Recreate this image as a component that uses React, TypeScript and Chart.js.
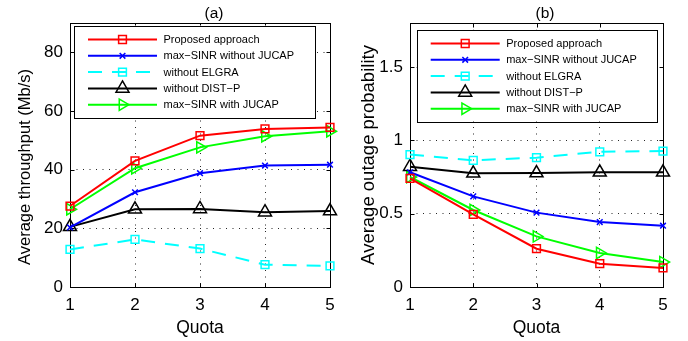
import React, { useEffect, useRef } from "react";
import { Chart, registerables } from "chart.js";
import { drawPoint } from "chart.js/helpers";

Chart.register(...registerables);

// ---------- data ----------
const quota = [1, 2, 3, 4, 5];
const seriesLabels = [
  "Proposed approach",
  "max\u2212SINR without JUCAP",
  "without ELGRA",
  "without DIST\u2212P",
  "max\u2212SINR with JUCAP",
];

// (a) Average throughput (Mb/s)
const thrProposed = [27.6, 43.0, 51.6, 53.9, 54.4];
const thrMaxSinrNoJucap = [20.3, 32.3, 38.8, 41.4, 41.7];
const thrNoElgra = [12.8, 16.2, 13.1, 7.6, 7.2];
const thrNoDistP = [20.5, 26.5, 26.6, 25.5, 25.9];
const thrMaxSinrJucap = [26.5, 40.5, 47.6, 51.4, 53.1];
const yTicksA = [0, 20, 40, 60, 80];

// (b) Average outage probability
const outProposed = [0.74, 0.495, 0.261, 0.159, 0.13];
const outMaxSinrNoJucap = [0.782, 0.618, 0.507, 0.443, 0.418];
const outNoElgra = [0.903, 0.864, 0.882, 0.922, 0.927];
const outNoDistP = [0.82, 0.775, 0.777, 0.782, 0.782];
const outMaxSinrJucap = [0.75, 0.525, 0.345, 0.232, 0.17];
const yTicksB = [0, 0.5, 1, 1.5];

// ---------- styles ----------
const FONT = "'Liberation Sans', Arial, Helvetica, sans-serif";
const seriesStyles = [
  { color: "#ff0000", pointStyle: "rect", radius: 5.5, rotation: 0, dash: [] as number[] },
  { color: "#0000ff", pointStyle: "crossRot", radius: 4, rotation: 0, dash: [] as number[] },
  { color: "#00ffff", pointStyle: "rect", radius: 5.5, rotation: 0, dash: [14, 10] },
  { color: "#000000", pointStyle: "triangle", radius: 7.5, rotation: 0, dash: [] as number[] },
  { color: "#00ff00", pointStyle: "triangle", radius: 6.5, rotation: 90, dash: [] as number[] },
];

type Panel = {
  title: string;
  titleX: number;
  titleY: number;
  yLabel: string;
  yLabelX: number;
  yLabelY: number;
  yLabelSize: number;
  yMax: number;
  yTicks: number[];
  series: number[][];
  legend: { x: number; y: number; w: number; h: number };
  yAxisWidth: number;
  padRight: number;
  padTop: number;
};

const panelA: Panel = {
  title: "(a)",
  titleX: 214,
  titleY: 13.5,
  yLabel: "Average throughput (Mb/s)",
  yLabelX: 25,
  yLabelY: 167,
  yLabelSize: 16.5,
  yMax: 90,
  yTicks: yTicksA,
  series: [thrProposed, thrMaxSinrNoJucap, thrNoElgra, thrNoDistP, thrMaxSinrJucap],
  legend: { x: 74, y: 25.5, w: 241, h: 91.5 },
  yAxisWidth: 70,
  padRight: 14,
  padTop: 23,
};

const panelB: Panel = {
  title: "(b)",
  titleX: 201,
  titleY: 13.5,
  yLabel: "Average outage probability",
  yLabelX: 25,
  yLabelY: 155,
  yLabelSize: 18.5,
  yMax: 1.8,
  yTicks: yTicksB,
  series: [outProposed, outMaxSinrNoJucap, outNoElgra, outNoDistP, outMaxSinrJucap],
  legend: { x: 72.7, y: 29.5, w: 240, h: 91.5 },
  yAxisWidth: 66,
  padRight: 25,
  padTop: 23,
};

function buildConfig(p: Panel): any {
  const datasets = p.series.map((vals, i) => {
    const s = seriesStyles[i];
    return {
      label: seriesLabels[i],
      data: quota.map((q, k) => ({ x: q, y: vals[k] })),
      borderColor: s.color,
      borderWidth: 2,
      borderDash: s.dash,
      backgroundColor: "rgba(0,0,0,0)",
      pointStyle: s.pointStyle,
      pointRadius: s.radius,
      pointRotation: s.rotation,
      pointBorderColor: s.color,
      pointBackgroundColor: "rgba(0,0,0,0)",
      pointBorderWidth: 1.5,
      tension: 0,
      fill: false,
      clip: false,
    };
  });

  const framePlugin = {
    id: "frame",
    beforeDatasetsDraw(chart: any) {
      const { ctx, chartArea: a, scales } = chart;
      const L = Math.round(a.left) + 0.5;
      const R = Math.round(a.right) + 0.5;
      const T = Math.round(a.top) + 0.5;
      const B = Math.round(a.bottom) + 0.5;
      ctx.save();
      ctx.strokeStyle = "#000";
      ctx.lineWidth = 1;
      ctx.setLineDash([]);
      ctx.strokeRect(L, T, R - L, B - T);
      const tl = 4;
      ctx.beginPath();
      scales.x.ticks.forEach((t: any) => {
        const x = Math.round(scales.x.getPixelForValue(t.value)) + 0.5;
        ctx.moveTo(x, B);
        ctx.lineTo(x, B - tl);
        ctx.moveTo(x, T);
        ctx.lineTo(x, T + tl);
      });
      scales.y.ticks.forEach((t: any) => {
        const y = Math.round(scales.y.getPixelForValue(t.value)) + 0.5;
        ctx.moveTo(L, y);
        ctx.lineTo(L + tl, y);
        ctx.moveTo(R, y);
        ctx.lineTo(R - tl, y);
      });
      ctx.stroke();
      ctx.restore();
    },
  };

  const legendPlugin = {
    id: "matlabLegend",
    afterDatasetsDraw(chart: any) {
      const ctx = chart.ctx;
      const b = p.legend;
      ctx.save();
      ctx.fillStyle = "#fff";
      ctx.fillRect(b.x, b.y, b.w, b.h);
      ctx.strokeStyle = "#000";
      ctx.lineWidth = 1;
      ctx.setLineDash([]);
      ctx.strokeRect(Math.round(b.x) + 0.5, Math.round(b.y) + 0.5, Math.round(b.w), Math.round(b.h));
      chart.data.datasets.forEach((ds: any, i: number) => {
        const y = b.y + 14 + i * 16.3;
        ctx.save();
        ctx.strokeStyle = ds.borderColor;
        ctx.lineWidth = ds.borderWidth;
        ctx.setLineDash(ds.borderDash || []);
        ctx.beginPath();
        ctx.moveTo(b.x + 14, y);
        ctx.lineTo(b.x + 83, y);
        ctx.stroke();
        ctx.setLineDash([]);
        ctx.lineWidth = ds.pointBorderWidth;
        ctx.fillStyle = "rgba(0,0,0,0)";
        ctx.strokeStyle = ds.pointBorderColor;
        drawPoint(
          ctx,
          {
            pointStyle: ds.pointStyle,
            rotation: ds.pointRotation,
            radius: ds.pointRadius,
            borderWidth: ds.pointBorderWidth,
          } as any,
          b.x + 48.5,
          y
        );
        ctx.restore();
        ctx.fillStyle = "#000";
        ctx.font = `11px ${FONT}`;
        ctx.textAlign = "left";
        ctx.textBaseline = "middle";
        ctx.fillText(ds.label, b.x + 89.5, y + 0.5);
      });
      ctx.restore();
    },
    afterDraw(chart: any) {
      const ctx = chart.ctx;
      ctx.save();
      ctx.fillStyle = "#000";
      ctx.textAlign = "center";
      ctx.textBaseline = "middle";
      ctx.font = `15.5px ${FONT}`;
      ctx.fillText(p.title, p.titleX, p.titleY);
      ctx.translate(p.yLabelX, p.yLabelY);
      ctx.rotate(-Math.PI / 2);
      ctx.font = `${p.yLabelSize}px ${FONT}`;
      ctx.fillText(p.yLabel, 0, 0);
      ctx.restore();
    },
  };

  return {
    type: "line",
    data: { datasets },
    options: {
      responsive: false,
      animation: false,
      devicePixelRatio: 1,
      layout: { padding: { top: p.padTop, right: p.padRight, left: 0, bottom: 0 } },
      plugins: { legend: { display: false }, tooltip: { enabled: false }, title: { display: false } },
      scales: {
        x: {
          type: "linear",
          min: 1,
          max: 5,
          afterBuildTicks: (s: any) => {
            s.ticks = quota.map((v) => ({ value: v }));
          },
          afterFit: (s: any) => {
            s.height = 54;
          },
          grid: { color: "rgba(0,0,0,0.85)", lineWidth: 1, drawTicks: false },
          border: { display: false, dash: [1, 5.5] },
          ticks: {
            color: "#000",
            font: { family: FONT, size: 17 },
            padding: 8,
            maxRotation: 0,
            callback: (v: any) => String(v),
          },
          title: {
            display: true,
            text: "Quota",
            color: "#000",
            font: { family: FONT, size: 17.5 },
            padding: { top: 0, bottom: 2.5 },
          },
        },
        y: {
          type: "linear",
          min: 0,
          max: p.yMax,
          afterBuildTicks: (s: any) => {
            s.ticks = p.yTicks.map((v) => ({ value: v }));
          },
          afterFit: (s: any) => {
            s.width = p.yAxisWidth;
          },
          grid: { color: "rgba(0,0,0,0.85)", lineWidth: 1, drawTicks: false },
          border: { display: false, dash: [1, 5.5] },
          ticks: {
            color: "#000",
            font: { family: FONT, size: 17 },
            padding: 7,
            callback: (v: any) => String(v),
          },
          title: { display: false },
        },
      },
    },
    plugins: [framePlugin, legendPlugin],
  };
}

export default function App() {
  const refA = useRef<HTMLCanvasElement>(null);
  const refB = useRef<HTMLCanvasElement>(null);

  useEffect(() => {
    const a = new Chart(refA.current as HTMLCanvasElement, buildConfig(panelA));
    const b = new Chart(refB.current as HTMLCanvasElement, buildConfig(panelB));
    return () => {
      a.destroy();
      b.destroy();
    };
  }, []);

  return (
    <div style={{ position: "absolute", left: 0, top: 0, width: 688, height: 341, background: "#fff" }}>
      <canvas
        ref={refA}
        width={344}
        height={341}
        style={{ position: "absolute", left: 0, top: 0, width: 344, height: 341 }}
      />
      <canvas
        ref={refB}
        width={344}
        height={341}
        style={{ position: "absolute", left: 344, top: 0, width: 344, height: 341 }}
      />
    </div>
  );
}
